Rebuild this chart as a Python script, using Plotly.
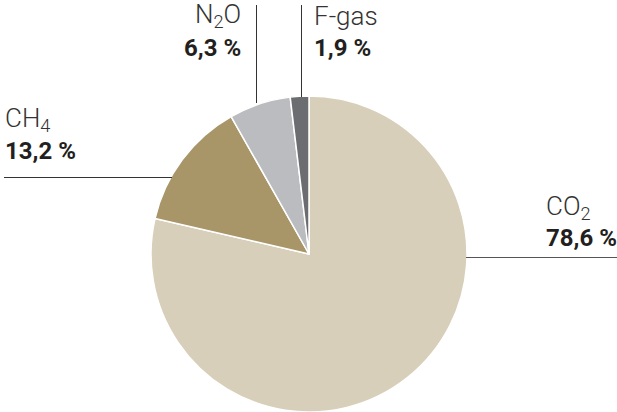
import plotly.graph_objects as go

W, H = 617, 412
gases = ["CO<sub>2</sub>", "CH<sub>4</sub>", "N<sub>2</sub>O", "F-gas"]
shares = [78.6, 13.2, 6.3, 1.9]
share_labels = ["78,6 %", "13,2 %", "6,3 %", "1,9 %"]
colors = ["#d7cfb9", "#a89669", "#bbbcbf", "#6c6d70"]

def px(x):
    return x / W

def py(y):
    return 1 - y / H

fig = go.Figure(go.Pie(
    labels=gases, values=shares, sort=False, direction="clockwise", rotation=0,
    marker=dict(colors=colors, line=dict(color="white", width=1.5)),
    textinfo="none", hoverinfo="label+percent", showlegend=False,
    domain=dict(x=[px(151), px(467)], y=[0, py(96)]),
))

# leader lines
line = dict(color="#333333", width=1)
shapes = [
    dict(type="line", xref="paper", yref="paper", x0=px(256.5), x1=px(256.5), y0=py(5), y1=py(103), line=line),
    dict(type="line", xref="paper", yref="paper", x0=px(301.5), x1=px(301.5), y0=py(5), y1=py(97), line=line),
    dict(type="line", xref="paper", yref="paper", x0=px(4), x1=px(172), y0=py(177.5), y1=py(177.5), line=line),
    dict(type="line", xref="paper", yref="paper", x0=px(466), x1=px(617), y0=py(257.5), y1=py(257.5), line=dict(color="#555555", width=1)),
]

name_font = dict(family="Roboto", size=26, color="#333333", weight=300)
val_font = dict(family="Roboto", size=24, color="#231f20", weight=700)

pos = [
    # (x, name_y, val_y, xanchor)
    (544, 207, 238, "left"),
    (3, 120, 151, "left"),
    (243, 16, 48, "right"),
    (312, 16, 48, "left"),
]
ann = []
for g, v, (x, ny, vy, xa) in zip(gases, share_labels, pos):
    ann.append(dict(text=g, x=px(x), y=py(ny), xref="paper", yref="paper", xanchor=xa,
                    yanchor="middle", showarrow=False, font=name_font))
    ann.append(dict(text=v, x=px(x), y=py(vy), xref="paper", yref="paper", xanchor=xa,
                    yanchor="middle", showarrow=False, font=val_font))

fig.update_layout(width=W, height=H, margin=dict(l=0, r=0, t=0, b=0),
                  paper_bgcolor="white", plot_bgcolor="white",
                  shapes=shapes, annotations=ann)
fig.write_html("out.html", config={"displayModeBar": False},
               post_script="document.body.style.margin='0';")
